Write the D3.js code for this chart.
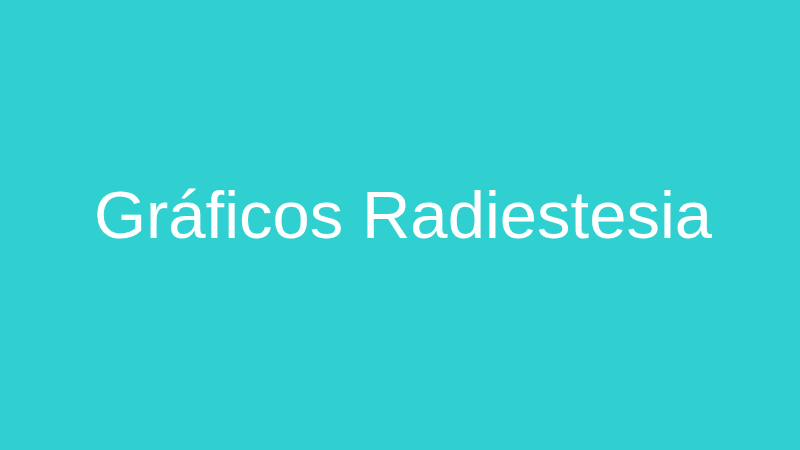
<!DOCTYPE html>
<html>
<head>
<meta charset="utf-8">
<script src="https://cdn.jsdelivr.net/npm/d3@7"></script>
<style>
  html, body { margin: 0; padding: 0; }
</style>
</head>
<body>
<div id="chart"></div>
<script>
var titleLines = ["Gráficos Radiestesia"];
var bgColor = "#31d0d0";

var width = 800, height = 450;

var svg = d3.select("#chart")
  .append("svg")
  .attr("width", width)
  .attr("height", height);

svg.append("rect")
  .attr("width", width)
  .attr("height", height)
  .attr("fill", bgColor);

svg.selectAll("text.title")
  .data(titleLines)
  .enter()
  .append("text")
  .attr("class", "title")
  .attr("x", 403)
  .attr("y", 238)
  .attr("text-anchor", "middle")
  .attr("font-family", "'Liberation Sans', Arial, sans-serif")
  .attr("font-size", 67)
  .attr("fill", "#ffffff")
  .text(function(d){ return d; });
</script>
</body>
</html>
